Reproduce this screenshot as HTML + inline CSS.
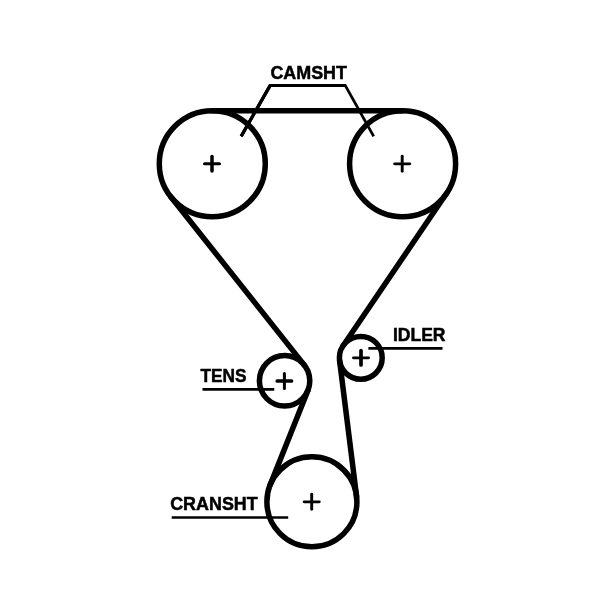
<!DOCTYPE html>
<html><head><meta charset="utf-8"><title>Timing belt</title>
<style>
html,body{margin:0;padding:0;background:#fff;}
svg{display:block;will-change:transform;filter:grayscale(1);}
text{font-family:"Liberation Sans",Arial,sans-serif;font-weight:700;font-size:18.2px;fill:#000;stroke:#000;stroke-width:0.5px;stroke-linejoin:miter;}
</style></head><body>
<svg width="600" height="600" viewBox="0 0 600 600">
<rect width="600" height="600" fill="#fff"/>
<g fill="none" stroke="#000" stroke-width="5.5" stroke-linecap="round"><circle cx="212.3" cy="163.75" r="53.0"/><circle cx="402.6" cy="163.75" r="53.0"/><circle cx="284.6" cy="380.8" r="25.2"/><circle cx="360.8" cy="357.8" r="21.4"/><circle cx="311.9" cy="501.8" r="45.0"/><line x1="212.30" y1="110.75" x2="402.60" y2="110.75"/><line x1="446.45" y1="193.52" x2="343.09" y2="345.78"/><line x1="339.57" y1="360.46" x2="356.55" y2="496.21"/><line x1="270.10" y1="485.12" x2="308.01" y2="390.14"/><line x1="304.35" y1="365.14" x2="170.77" y2="196.68"/></g>
<g fill="none" stroke="#000" stroke-linecap="round"><path d="M204.50 163.8H219.50" stroke-width="3.0"/><path d="M212.0 156.55V171.05" stroke-width="3.5"/><path d="M394.60 163.8H409.80" stroke-width="2.8"/><path d="M402.2 156.25V171.35" stroke-width="2.9"/><path d="M277.25 381.0H291.55" stroke-width="3.7"/><path d="M284.4 373.50V388.50" stroke-width="3.0"/><path d="M353.40 357.8H368.60" stroke-width="2.8"/><path d="M361.0 350.65V364.95" stroke-width="3.7"/><path d="M304.10 501.8H319.30" stroke-width="2.8"/><path d="M311.7 494.25V509.35" stroke-width="2.9"/></g>
<g fill="none" stroke="#000" stroke-linecap="butt" stroke-linejoin="miter">
<path d="M241.2 136.2L270.2 85.4H345.2L373.7 136.4" stroke-width="2.8"/>
<path d="M241.2 136.2L270.2 85.4H345.2" stroke-width="3.0"/>
<path d="M241.2 136.2L270.2 85.4" stroke-width="3.3"/>
<path d="M202.5 389.4H274.25" stroke-width="2.7"/>
<path d="M368.4 348.4H442.5" stroke-width="2.8"/>
<path d="M171.7 517.5H288.2" stroke-width="2.4"/>
</g>
<text x="270.4" y="78.7" textLength="76.6" lengthAdjust="spacingAndGlyphs">CAMSHT</text>
<text x="200.4" y="381.7" textLength="46.0" lengthAdjust="spacingAndGlyphs">TENS</text>
<text x="392.9" y="340.5" textLength="52.6" lengthAdjust="spacingAndGlyphs">IDLER</text>
<text x="170.2" y="510.0" textLength="87.5" lengthAdjust="spacingAndGlyphs">CRANSHT</text>
</svg>
</body></html>
